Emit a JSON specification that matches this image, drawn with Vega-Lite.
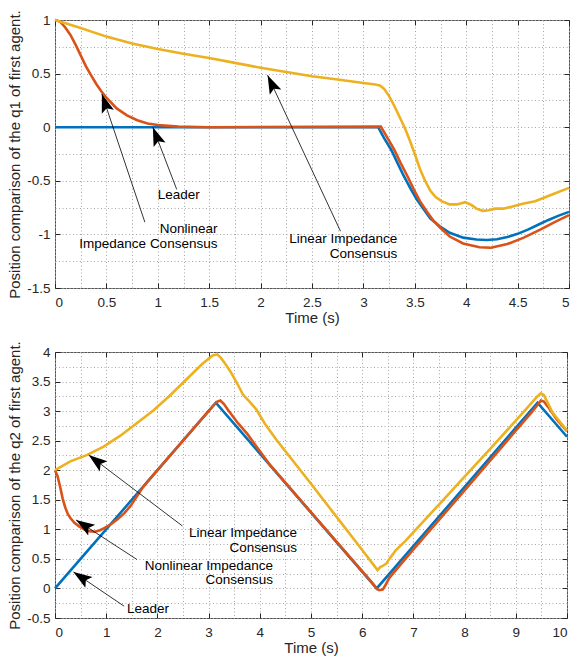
{
  "$schema": "https://vega.github.io/schema/vega-lite/v6.json",
  "background": "white",
  "padding": {"left": 7, "top": 9, "right": 8, "bottom": 2},
  "spacing": 14,
  "config": {
    "font": "Liberation Sans",
    "view": {"stroke": "#555555", "strokeWidth": 1},
    "axis": {
      "labelFont": "Liberation Sans",
      "labelFontSize": 13.5,
      "labelColor": "#262626",
      "titleFont": "Liberation Sans",
      "titleFontSize": 15,
      "titleFontWeight": "normal",
      "titleColor": "#262626",
      "tickColor": "#262626",
      "domain": false,
      "gridColor": "#a6a6a6",
      "gridDash": [1, 2.5],
      "gridWidth": 1,
      "gridOpacity": 1
    }
  },
  "datasets": {
    "top": [
      {"s": "Leader", "t": 0, "v": 0}, {"s": "Leader", "t": 3.144, "v": 0}, {"s": "Leader", "t": 3.2, "v": -0.1},
      {"s": "Leader", "t": 3.27, "v": -0.21}, {"s": "Leader", "t": 3.33, "v": -0.33}, {"s": "Leader", "t": 3.39, "v": -0.45},
      {"s": "Leader", "t": 3.46, "v": -0.575}, {"s": "Leader", "t": 3.52, "v": -0.675}, {"s": "Leader", "t": 3.59, "v": -0.77},
      {"s": "Leader", "t": 3.65, "v": -0.85}, {"s": "Leader", "t": 3.75, "v": -0.93}, {"s": "Leader", "t": 3.84, "v": -0.985},
      {"s": "Leader", "t": 3.97, "v": -1.03}, {"s": "Leader", "t": 4.1, "v": -1.048}, {"s": "Leader", "t": 4.2, "v": -1.052},
      {"s": "Leader", "t": 4.3, "v": -1.045}, {"s": "Leader", "t": 4.4, "v": -1.025}, {"s": "Leader", "t": 4.5, "v": -0.995},
      {"s": "Leader", "t": 4.6, "v": -0.955}, {"s": "Leader", "t": 4.7, "v": -0.91}, {"s": "Leader", "t": 4.8, "v": -0.865},
      {"s": "Leader", "t": 4.9, "v": -0.825}, {"s": "Leader", "t": 5, "v": -0.79},
      {"s": "Nonlinear", "t": 0, "v": 1}, {"s": "Nonlinear", "t": 0.05, "v": 0.985}, {"s": "Nonlinear", "t": 0.1, "v": 0.93},
      {"s": "Nonlinear", "t": 0.15, "v": 0.86}, {"s": "Nonlinear", "t": 0.2, "v": 0.77}, {"s": "Nonlinear", "t": 0.25, "v": 0.67},
      {"s": "Nonlinear", "t": 0.3, "v": 0.57}, {"s": "Nonlinear", "t": 0.35, "v": 0.485}, {"s": "Nonlinear", "t": 0.4, "v": 0.405},
      {"s": "Nonlinear", "t": 0.45, "v": 0.335}, {"s": "Nonlinear", "t": 0.5, "v": 0.275}, {"s": "Nonlinear", "t": 0.6, "v": 0.175},
      {"s": "Nonlinear", "t": 0.7, "v": 0.11}, {"s": "Nonlinear", "t": 0.8, "v": 0.065}, {"s": "Nonlinear", "t": 0.9, "v": 0.035},
      {"s": "Nonlinear", "t": 1.0, "v": 0.02}, {"s": "Nonlinear", "t": 1.2, "v": 0.005}, {"s": "Nonlinear", "t": 1.5, "v": 0.0},
      {"s": "Nonlinear", "t": 3.17, "v": 0.005}, {"s": "Nonlinear", "t": 3.234, "v": -0.1}, {"s": "Nonlinear", "t": 3.3, "v": -0.21},
      {"s": "Nonlinear", "t": 3.36, "v": -0.33}, {"s": "Nonlinear", "t": 3.43, "v": -0.46}, {"s": "Nonlinear", "t": 3.49, "v": -0.58},
      {"s": "Nonlinear", "t": 3.55, "v": -0.69}, {"s": "Nonlinear", "t": 3.62, "v": -0.79}, {"s": "Nonlinear", "t": 3.68, "v": -0.87},
      {"s": "Nonlinear", "t": 3.75, "v": -0.94}, {"s": "Nonlinear", "t": 3.84, "v": -1.02}, {"s": "Nonlinear", "t": 3.97, "v": -1.085},
      {"s": "Nonlinear", "t": 4.13, "v": -1.12}, {"s": "Nonlinear", "t": 4.24, "v": -1.125}, {"s": "Nonlinear", "t": 4.4, "v": -1.09},
      {"s": "Nonlinear", "t": 4.56, "v": -1.03}, {"s": "Nonlinear", "t": 4.72, "v": -0.955}, {"s": "Nonlinear", "t": 4.86, "v": -0.885},
      {"s": "Nonlinear", "t": 5, "v": -0.82},
      {"s": "Linear", "t": 0, "v": 1}, {"s": "Linear", "t": 0.25, "v": 0.925}, {"s": "Linear", "t": 0.5, "v": 0.845},
      {"s": "Linear", "t": 0.75, "v": 0.78}, {"s": "Linear", "t": 1, "v": 0.73}, {"s": "Linear", "t": 1.25, "v": 0.685},
      {"s": "Linear", "t": 1.5, "v": 0.645}, {"s": "Linear", "t": 1.75, "v": 0.6}, {"s": "Linear", "t": 2, "v": 0.555},
      {"s": "Linear", "t": 2.25, "v": 0.515}, {"s": "Linear", "t": 2.5, "v": 0.476}, {"s": "Linear", "t": 2.75, "v": 0.445},
      {"s": "Linear", "t": 3, "v": 0.413}, {"s": "Linear", "t": 3.1, "v": 0.4}, {"s": "Linear", "t": 3.16, "v": 0.39},
      {"s": "Linear", "t": 3.2, "v": 0.36}, {"s": "Linear", "t": 3.25, "v": 0.29}, {"s": "Linear", "t": 3.3, "v": 0.2},
      {"s": "Linear", "t": 3.35, "v": 0.1}, {"s": "Linear", "t": 3.4, "v": 0.0}, {"s": "Linear", "t": 3.45, "v": -0.12},
      {"s": "Linear", "t": 3.5, "v": -0.25}, {"s": "Linear", "t": 3.55, "v": -0.39}, {"s": "Linear", "t": 3.6, "v": -0.5},
      {"s": "Linear", "t": 3.65, "v": -0.59}, {"s": "Linear", "t": 3.7, "v": -0.65}, {"s": "Linear", "t": 3.76, "v": -0.69},
      {"s": "Linear", "t": 3.84, "v": -0.72}, {"s": "Linear", "t": 3.91, "v": -0.72}, {"s": "Linear", "t": 3.99, "v": -0.7},
      {"s": "Linear", "t": 4.05, "v": -0.725}, {"s": "Linear", "t": 4.1, "v": -0.76}, {"s": "Linear", "t": 4.16, "v": -0.78},
      {"s": "Linear", "t": 4.22, "v": -0.775}, {"s": "Linear", "t": 4.28, "v": -0.76}, {"s": "Linear", "t": 4.36, "v": -0.76},
      {"s": "Linear", "t": 4.45, "v": -0.74}, {"s": "Linear", "t": 4.55, "v": -0.715}, {"s": "Linear", "t": 4.67, "v": -0.69},
      {"s": "Linear", "t": 4.83, "v": -0.63}, {"s": "Linear", "t": 5, "v": -0.566}
    ],
    "bottom": [
      {"s": "Leader", "t": 0, "v": 0}, {"s": "Leader", "t": 3.1416, "v": 3.1416}, {"s": "Leader", "t": 6.2832, "v": 0},
      {"s": "Leader", "t": 9.4248, "v": 3.1416}, {"s": "Leader", "t": 10, "v": 2.566},
      {"s": "Nonlinear", "t": 0, "v": 2.0}, {"s": "Nonlinear", "t": 0.05, "v": 1.9}, {"s": "Nonlinear", "t": 0.1, "v": 1.72},
      {"s": "Nonlinear", "t": 0.15, "v": 1.52}, {"s": "Nonlinear", "t": 0.2, "v": 1.37}, {"s": "Nonlinear", "t": 0.25, "v": 1.26},
      {"s": "Nonlinear", "t": 0.3, "v": 1.19}, {"s": "Nonlinear", "t": 0.38, "v": 1.11}, {"s": "Nonlinear", "t": 0.47, "v": 1.05},
      {"s": "Nonlinear", "t": 0.57, "v": 1.0}, {"s": "Nonlinear", "t": 0.67, "v": 0.97}, {"s": "Nonlinear", "t": 0.77, "v": 0.96},
      {"s": "Nonlinear", "t": 0.87, "v": 0.98}, {"s": "Nonlinear", "t": 0.96, "v": 1.02}, {"s": "Nonlinear", "t": 1.1, "v": 1.09},
      {"s": "Nonlinear", "t": 1.22, "v": 1.17}, {"s": "Nonlinear", "t": 1.35, "v": 1.27}, {"s": "Nonlinear", "t": 1.48, "v": 1.4},
      {"s": "Nonlinear", "t": 1.6, "v": 1.56}, {"s": "Nonlinear", "t": 1.7, "v": 1.69}, {"s": "Nonlinear", "t": 1.8, "v": 1.8},
      {"s": "Nonlinear", "t": 3.1, "v": 3.1}, {"s": "Nonlinear", "t": 3.17, "v": 3.16}, {"s": "Nonlinear", "t": 3.23, "v": 3.18},
      {"s": "Nonlinear", "t": 3.3, "v": 3.12}, {"s": "Nonlinear", "t": 3.37, "v": 3.03}, {"s": "Nonlinear", "t": 3.57, "v": 2.8},
      {"s": "Nonlinear", "t": 3.76, "v": 2.61}, {"s": "Nonlinear", "t": 3.96, "v": 2.37}, {"s": "Nonlinear", "t": 4.2, "v": 2.09},
      {"s": "Nonlinear", "t": 6.2, "v": 0.09}, {"s": "Nonlinear", "t": 6.28, "v": 0.0}, {"s": "Nonlinear", "t": 6.33, "v": -0.03},
      {"s": "Nonlinear", "t": 6.4, "v": -0.02}, {"s": "Nonlinear", "t": 6.45, "v": 0.05}, {"s": "Nonlinear", "t": 6.53, "v": 0.18},
      {"s": "Nonlinear", "t": 7, "v": 0.66}, {"s": "Nonlinear", "t": 8, "v": 1.66}, {"s": "Nonlinear", "t": 9, "v": 2.67},
      {"s": "Nonlinear", "t": 9.3, "v": 2.97}, {"s": "Nonlinear", "t": 9.42, "v": 3.1}, {"s": "Nonlinear", "t": 9.49, "v": 3.18},
      {"s": "Nonlinear", "t": 9.55, "v": 3.16}, {"s": "Nonlinear", "t": 9.65, "v": 3.05}, {"s": "Nonlinear", "t": 9.8, "v": 2.86},
      {"s": "Nonlinear", "t": 10, "v": 2.66},
      {"s": "Linear", "t": 0, "v": 2.0}, {"s": "Linear", "t": 0.3, "v": 2.15}, {"s": "Linear", "t": 0.63, "v": 2.26},
      {"s": "Linear", "t": 0.95, "v": 2.4}, {"s": "Linear", "t": 1.27, "v": 2.58}, {"s": "Linear", "t": 1.59, "v": 2.79},
      {"s": "Linear", "t": 1.92, "v": 3.01}, {"s": "Linear", "t": 2.24, "v": 3.26}, {"s": "Linear", "t": 2.56, "v": 3.53},
      {"s": "Linear", "t": 2.88, "v": 3.8}, {"s": "Linear", "t": 3.08, "v": 3.94}, {"s": "Linear", "t": 3.17, "v": 3.96},
      {"s": "Linear", "t": 3.24, "v": 3.9}, {"s": "Linear", "t": 3.31, "v": 3.82}, {"s": "Linear", "t": 3.44, "v": 3.65},
      {"s": "Linear", "t": 3.57, "v": 3.45}, {"s": "Linear", "t": 3.67, "v": 3.28}, {"s": "Linear", "t": 3.8, "v": 3.16},
      {"s": "Linear", "t": 3.93, "v": 3.03}, {"s": "Linear", "t": 4.09, "v": 2.8}, {"s": "Linear", "t": 4.32, "v": 2.52},
      {"s": "Linear", "t": 5, "v": 1.77}, {"s": "Linear", "t": 5.5, "v": 1.21}, {"s": "Linear", "t": 6, "v": 0.65},
      {"s": "Linear", "t": 6.3, "v": 0.31}, {"s": "Linear", "t": 6.35, "v": 0.36}, {"s": "Linear", "t": 6.4, "v": 0.38},
      {"s": "Linear", "t": 6.47, "v": 0.42}, {"s": "Linear", "t": 6.53, "v": 0.5}, {"s": "Linear", "t": 6.6, "v": 0.58},
      {"s": "Linear", "t": 6.65, "v": 0.64}, {"s": "Linear", "t": 6.84, "v": 0.8}, {"s": "Linear", "t": 7.5, "v": 1.42},
      {"s": "Linear", "t": 8, "v": 1.89}, {"s": "Linear", "t": 8.5, "v": 2.36}, {"s": "Linear", "t": 9, "v": 2.84},
      {"s": "Linear", "t": 9.3, "v": 3.13}, {"s": "Linear", "t": 9.42, "v": 3.25}, {"s": "Linear", "t": 9.49, "v": 3.3},
      {"s": "Linear", "t": 9.55, "v": 3.27}, {"s": "Linear", "t": 9.72, "v": 2.97}, {"s": "Linear", "t": 10, "v": 2.67}
    ],
    "topArrows": [
      {"x0": 0.874, "y0": -0.886, "x": 0.456, "y": 0.31},
      {"x0": 1.184, "y0": -0.58, "x": 0.952, "y": 0.0},
      {"x0": 2.777, "y0": -0.97, "x": 2.068, "y": 0.485}
    ],
    "bottomArrows": [
      {"x0": 2.49, "y0": 1.056, "x": 0.658, "y": 2.257},
      {"x0": 1.6, "y0": 0.49, "x": 0.41, "y": 1.16},
      {"x0": 1.35, "y0": -0.3, "x": 0.36, "y": 0.28}
    ],
    "topText": [
      {"x": 1.408, "y": -0.634, "label": "Leader"},
      {"x": 1.58, "y": -0.951, "label": "Nonlinear"},
      {"x": 1.58, "y": -1.091, "label": "Impedance Consensus"},
      {"x": 3.33, "y": -1.045, "label": "Linear Impedance"},
      {"x": 3.33, "y": -1.185, "label": "Consensus"}
    ],
    "bottomText": [
      {"x": 4.727, "y": 0.937, "label": "Linear Impedance"},
      {"x": 4.727, "y": 0.684, "label": "Consensus"},
      {"x": 4.258, "y": 0.379, "label": "Nonlinear Impedance"},
      {"x": 4.258, "y": 0.137, "label": "Consensus"},
      {"x": 2.227, "y": -0.349, "label": "Leader"}
    ]
  },
  "vconcat": [
    {
      "width": 514,
      "height": 268,
      "resolve": {"axis": {"x": "independent", "y": "independent"}},
      "layer": [
        {
          "data": {"name": "top"},
          "mark": {"type": "line", "strokeWidth": 2.6},
          "encoding": {
            "x": {"field": "t", "type": "quantitative", "scale": {"domain": [0, 5], "nice": false, "zero": false},
              "axis": {"orient": "bottom", "values": [0, 0.25, 0.5, 0.75, 1, 1.25, 1.5, 1.75, 2, 2.25, 2.5, 2.75, 3, 3.25, 3.5, 3.75, 4, 4.25, 4.5, 4.75, 5], "grid": true, "tickSize": -5,
                "tickOpacity": {"condition": {"test": "abs(datum.value * 2 - round(datum.value * 2)) < 0.001", "value": 1}, "value": 0},
                "labelPadding": 12, "labelExpr": "abs(datum.value * 2 - round(datum.value * 2)) < 0.001 ? toString(datum.value) : ''", "title": "Time (s)", "titlePadding": 2}},
            "y": {"field": "v", "type": "quantitative", "scale": {"domain": [-1.5, 1], "nice": false, "zero": false},
              "axis": {"orient": "left", "values": [-1.5, -1.25, -1, -0.75, -0.5, -0.25, 0, 0.25, 0.5, 0.75, 1], "grid": true, "tickSize": -5,
                "tickOpacity": {"condition": {"test": "abs(datum.value * 2 - round(datum.value * 2)) < 0.001", "value": 1}, "value": 0},
                "labelPadding": 10, "labelExpr": "abs(datum.value * 2 - round(datum.value * 2)) < 0.001 ? toString(datum.value) : ''", "title": "Position comparison of the q1 of first agent.", "titlePadding": 4}},
            "color": {"field": "s", "type": "nominal", "scale": {"domain": ["Leader", "Nonlinear", "Linear"], "range": ["#0072BD", "#D95319", "#EDB120"]}, "legend": null}
          }
        },
        {
          "data": {"name": "top"},
          "mark": {"type": "line", "opacity": 0},
          "encoding": {
            "x": {"field": "t", "type": "quantitative", "scale": {"domain": [0, 5], "nice": false, "zero": false},
              "axis": {"orient": "top", "values": [0, 0.5, 1, 1.5, 2, 2.5, 3, 3.5, 4, 4.5, 5], "grid": false, "tickSize": -5, "labels": false, "title": null}},
            "y": {"field": "v", "type": "quantitative", "scale": {"domain": [-1.5, 1], "nice": false, "zero": false},
              "axis": {"orient": "right", "values": [-1.5, -1, -0.5, 0, 0.5, 1], "grid": false, "tickSize": -5, "labels": false, "title": null}},
            "detail": {"field": "s"}
          }
        },
        {
          "data": {"name": "topArrows"},
          "mark": {"type": "rule", "color": "black", "strokeWidth": 0.8},
          "encoding": {
            "x": {"field": "x0", "type": "quantitative", "scale": {"domain": [0, 5], "nice": false, "zero": false}, "axis": null},
            "y": {"field": "y0", "type": "quantitative", "scale": {"domain": [-1.5, 1], "nice": false, "zero": false}, "axis": null},
            "x2": {"field": "x"},
            "y2": {"field": "y"}
          }
        },
        {
          "data": {"name": "topArrows"},
          "transform": [{"calculate": "atan2((datum.x - datum.x0) * 103, (datum.y - datum.y0) * 107.2) * 180 / PI", "as": "angle"}],
          "mark": {"type": "point", "shape": "M0,0L0.34,1L0,0.8L-0.34,1Z", "size": 1400, "filled": true, "color": "black", "opacity": 1, "strokeWidth": 0},
          "encoding": {
            "x": {"field": "x", "type": "quantitative", "scale": {"domain": [0, 5], "nice": false, "zero": false}, "axis": null},
            "y": {"field": "y", "type": "quantitative", "scale": {"domain": [-1.5, 1], "nice": false, "zero": false}, "axis": null},
            "angle": {"field": "angle", "type": "quantitative", "scale": null}
          }
        },
        {
          "data": {"name": "topText"},
          "mark": {"type": "text", "align": "right", "baseline": "middle", "fontSize": 13.5, "font": "Liberation Sans", "color": "black"},
          "encoding": {
            "x": {"field": "x", "type": "quantitative", "scale": {"domain": [0, 5], "nice": false, "zero": false}, "axis": null},
            "y": {"field": "y", "type": "quantitative", "scale": {"domain": [-1.5, 1], "nice": false, "zero": false}, "axis": null},
            "text": {"field": "label"}
          }
        }
      ]
    },
    {
      "width": 512,
      "height": 266,
      "resolve": {"axis": {"x": "independent", "y": "independent"}},
      "layer": [
        {
          "data": {"name": "bottom"},
          "mark": {"type": "line", "strokeWidth": 2.6},
          "encoding": {
            "x": {"field": "t", "type": "quantitative", "scale": {"domain": [0, 10], "nice": false, "zero": false},
              "axis": {"orient": "bottom", "values": [0, 0.5, 1, 1.5, 2, 2.5, 3, 3.5, 4, 4.5, 5, 5.5, 6, 6.5, 7, 7.5, 8, 8.5, 9, 9.5, 10], "grid": true, "tickSize": -5,
                "tickOpacity": {"condition": {"test": "abs(datum.value - round(datum.value)) < 0.001", "value": 1}, "value": 0},
                "labelPadding": 12, "labelExpr": "abs(datum.value - round(datum.value)) < 0.001 ? toString(datum.value) : ''", "title": "Time (s)", "titlePadding": 2}},
            "y": {"field": "v", "type": "quantitative", "scale": {"domain": [-0.5, 4], "nice": false, "zero": false},
              "axis": {"orient": "left", "values": [-0.5, -0.25, 0, 0.25, 0.5, 0.75, 1, 1.25, 1.5, 1.75, 2, 2.25, 2.5, 2.75, 3, 3.25, 3.5, 3.75, 4], "grid": true, "tickSize": -5,
                "tickOpacity": {"condition": {"test": "abs(datum.value * 2 - round(datum.value * 2)) < 0.001", "value": 1}, "value": 0},
                "labelPadding": 10, "labelExpr": "abs(datum.value * 2 - round(datum.value * 2)) < 0.001 ? toString(datum.value) : ''", "title": "Position comparison of the q2 of first agent.", "titlePadding": 4}},
            "color": {"field": "s", "type": "nominal", "scale": {"domain": ["Leader", "Nonlinear", "Linear"], "range": ["#0072BD", "#D95319", "#EDB120"]}, "legend": null}
          }
        },
        {
          "data": {"name": "bottom"},
          "mark": {"type": "line", "opacity": 0},
          "encoding": {
            "x": {"field": "t", "type": "quantitative", "scale": {"domain": [0, 10], "nice": false, "zero": false},
              "axis": {"orient": "top", "values": [0, 1, 2, 3, 4, 5, 6, 7, 8, 9, 10], "grid": false, "tickSize": -5, "labels": false, "title": null}},
            "y": {"field": "v", "type": "quantitative", "scale": {"domain": [-0.5, 4], "nice": false, "zero": false},
              "axis": {"orient": "right", "values": [-0.5, 0, 0.5, 1, 1.5, 2, 2.5, 3, 3.5, 4], "grid": false, "tickSize": -5, "labels": false, "title": null}},
            "detail": {"field": "s"}
          }
        },
        {
          "data": {"name": "bottomArrows"},
          "mark": {"type": "rule", "color": "black", "strokeWidth": 0.8},
          "encoding": {
            "x": {"field": "x0", "type": "quantitative", "scale": {"domain": [0, 10], "nice": false, "zero": false}, "axis": null},
            "y": {"field": "y0", "type": "quantitative", "scale": {"domain": [-0.5, 4], "nice": false, "zero": false}, "axis": null},
            "x2": {"field": "x"},
            "y2": {"field": "y"}
          }
        },
        {
          "data": {"name": "bottomArrows"},
          "transform": [{"calculate": "atan2((datum.x - datum.x0) * 51.2, (datum.y - datum.y0) * 59.1) * 180 / PI", "as": "angle"}],
          "mark": {"type": "point", "shape": "M0,0L0.34,1L0,0.8L-0.34,1Z", "size": 1400, "filled": true, "color": "black", "opacity": 1, "strokeWidth": 0},
          "encoding": {
            "x": {"field": "x", "type": "quantitative", "scale": {"domain": [0, 10], "nice": false, "zero": false}, "axis": null},
            "y": {"field": "y", "type": "quantitative", "scale": {"domain": [-0.5, 4], "nice": false, "zero": false}, "axis": null},
            "angle": {"field": "angle", "type": "quantitative", "scale": null}
          }
        },
        {
          "data": {"name": "bottomText"},
          "mark": {"type": "text", "align": "right", "baseline": "middle", "fontSize": 13.5, "font": "Liberation Sans", "color": "black"},
          "encoding": {
            "x": {"field": "x", "type": "quantitative", "scale": {"domain": [0, 10], "nice": false, "zero": false}, "axis": null},
            "y": {"field": "y", "type": "quantitative", "scale": {"domain": [-0.5, 4], "nice": false, "zero": false}, "axis": null},
            "text": {"field": "label"}
          }
        }
      ]
    }
  ]
}
